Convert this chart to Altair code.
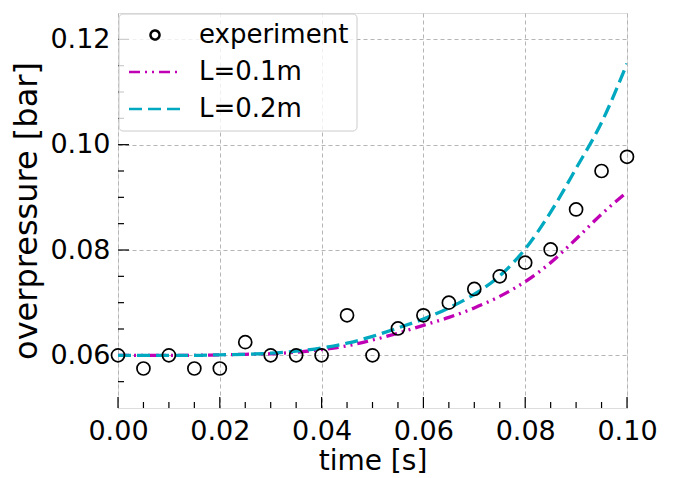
import altair as alt
import pandas as pd

# experiment
exp_t = [0.0, 0.005, 0.01, 0.015, 0.02, 0.025, 0.03, 0.035, 0.04, 0.045, 0.05,
         0.055, 0.06, 0.065, 0.07, 0.075, 0.08, 0.085, 0.09, 0.095, 0.1]
exp_p = [0.0600, 0.0575, 0.0600, 0.0575, 0.0575, 0.0625, 0.0600, 0.0600, 0.0600, 0.0676, 0.0600,
         0.0651, 0.0676, 0.0700, 0.0726, 0.0750, 0.0776, 0.0801, 0.0877, 0.0950, 0.0977]

# model curves
sim_t = [0.0, 0.005, 0.01, 0.015, 0.02, 0.025, 0.03, 0.035, 0.04, 0.045, 0.05,
         0.055, 0.06, 0.065, 0.07, 0.075, 0.08, 0.085, 0.09, 0.095, 0.1]
l01 = [0.0600, 0.0600, 0.0600, 0.0600, 0.0601, 0.0602, 0.0603, 0.0606, 0.0611, 0.0618, 0.0629,
       0.0642, 0.0657, 0.0672, 0.0690, 0.0712, 0.0740, 0.0776, 0.0821, 0.0868, 0.0910]
l02 = [0.0600, 0.0600, 0.0600, 0.0600, 0.0601, 0.0602, 0.0604, 0.0608, 0.0614, 0.0623, 0.0636,
       0.0652, 0.0669, 0.0690, 0.0716, 0.0751, 0.0802, 0.0872, 0.0955, 0.1042, 0.1154]

series_names = ["experiment", "L=0.1m", "L=0.2m"]
series_colors = ["#000000", "#c000b4", "#00a8c0"]
series_dashes = [[1, 0], [11, 5, 2, 5, 2, 5], [13, 6]]
CIRCLE = "M0.45,0A0.45,0.45,0,1,1,-0.45,0A0.45,0.45,0,1,1,0.45,0Z"
LINE = "M-2.6,0L2.6,0"
series_shapes = [CIRCLE, LINE, LINE]

x_major = [0.0, 0.02, 0.04, 0.06, 0.08, 0.10]
x_minor = [0.005, 0.01, 0.015, 0.025, 0.03, 0.035, 0.045, 0.05, 0.055,
           0.065, 0.07, 0.075, 0.085, 0.09, 0.095]
y_major = [0.06, 0.08, 0.10, 0.12]
y_minor = [0.055, 0.065, 0.07, 0.075, 0.085, 0.09, 0.095, 0.105, 0.11, 0.115]

W, H = 509, 395
FONT = "DejaVu Sans"

exp_df = pd.DataFrame({"t": exp_t, "p": exp_p, "series": "experiment"})
sim_df = pd.concat([
    pd.DataFrame({"t": sim_t, "p": l01, "series": "L=0.1m"}),
    pd.DataFrame({"t": sim_t, "p": l02, "series": "L=0.2m"}),
])

xscale = alt.Scale(domain=[0, 0.1], nice=False, zero=False)
yscale = alt.Scale(domain=[0.05, 0.125], nice=False, zero=False)

xaxis = alt.Axis(values=x_major, format=".2f", title="time [s]", ticks=False, domain=False,
                 labelFont=FONT, labelFontSize=27, labelColor="black", labelPadding=10,
                 titleFont=FONT, titleFontSize=28, titleFontWeight="normal", titleColor="black",
                 titlePadding=3, grid=True, gridDash=[4, 3], gridColor="#b5b5b5", gridWidth=1,
                 labelFlush=False)
yaxis = alt.Axis(values=y_major, format=".2f", title="overpressure [bar]", ticks=False, domain=False,
                 labelFont=FONT, labelFontSize=27, labelColor="black", labelPadding=8,
                 titleFont=FONT, titleFontSize=32, titleFontWeight="normal", titleColor="black",
                 titlePadding=6, grid=True, gridDash=[4, 3], gridColor="#b5b5b5", gridWidth=1,
                 labelFlush=False)

legend = alt.Legend(
    title=None, orient="none", legendX=24, legendY=9, direction="vertical", padding=0,
    labelFont=FONT, labelFontSize=26, labelColor="black", labelOffset=31, rowPadding=11,
    symbolSize=400, symbolStrokeWidth=2.5, symbolFillColor="transparent",
)

color = alt.Color("series:N", scale=alt.Scale(domain=series_names, range=series_colors), legend=legend)
shape = alt.Shape("series:N", scale=alt.Scale(domain=series_names, range=series_shapes), legend=legend)
dash = alt.StrokeDash("series:N", scale=alt.Scale(domain=series_names, range=series_dashes), legend=legend)

lines = alt.Chart(sim_df).mark_line(strokeWidth=3.3, interpolate="monotone", clip=True).encode(
    x=alt.X("t:Q", scale=xscale, axis=xaxis),
    y=alt.Y("p:Q", scale=yscale, axis=yaxis),
    color=color,
    strokeDash=dash,
)

points = alt.Chart(exp_df).mark_point(filled=False, size=835, strokeWidth=1.7, opacity=1).encode(
    x=alt.X("t:Q", scale=xscale),
    y=alt.Y("p:Q", scale=yscale),
    color=color,
    shape=shape,
)

legend_box = alt.Chart(pd.DataFrame({"a": [0]})).mark_rect(
    fill="white", fillOpacity=0.8, stroke="#cccccc", strokeWidth=1, cornerRadius=4
).encode(x=alt.value(1), x2=alt.value(239), y=alt.value(1), y2=alt.value(118))

xt_major = alt.Chart(pd.DataFrame({"v": x_major})).mark_rule(color="black", strokeWidth=1.2).encode(
    x=alt.X("v:Q", scale=xscale), y=alt.value(H), y2=alt.value(H - 11))
xt_minor = alt.Chart(pd.DataFrame({"v": x_minor})).mark_rule(color="black", strokeWidth=1.2).encode(
    x=alt.X("v:Q", scale=xscale), y=alt.value(H), y2=alt.value(H - 6))
yt_major = alt.Chart(pd.DataFrame({"v": y_major})).mark_rule(color="black", strokeWidth=1.2).encode(
    y=alt.Y("v:Q", scale=yscale), x=alt.value(0), x2=alt.value(11))
yt_minor = alt.Chart(pd.DataFrame({"v": y_minor})).mark_rule(color="black", strokeWidth=1.2).encode(
    y=alt.Y("v:Q", scale=yscale), x=alt.value(0), x2=alt.value(6))

chart = alt.layer(xt_major, xt_minor, yt_major, yt_minor, lines, points, legend_box).properties(
    width=W, height=H,
    padding={"left": 110, "top": 5, "right": 40, "bottom": 70},
    autosize=alt.AutoSizeParams(type="none"),
).configure_view(stroke="#222222", strokeWidth=1.5).configure(background="white")

chart.save("out.html", embed_options={"renderer": "svg", "actions": False})
